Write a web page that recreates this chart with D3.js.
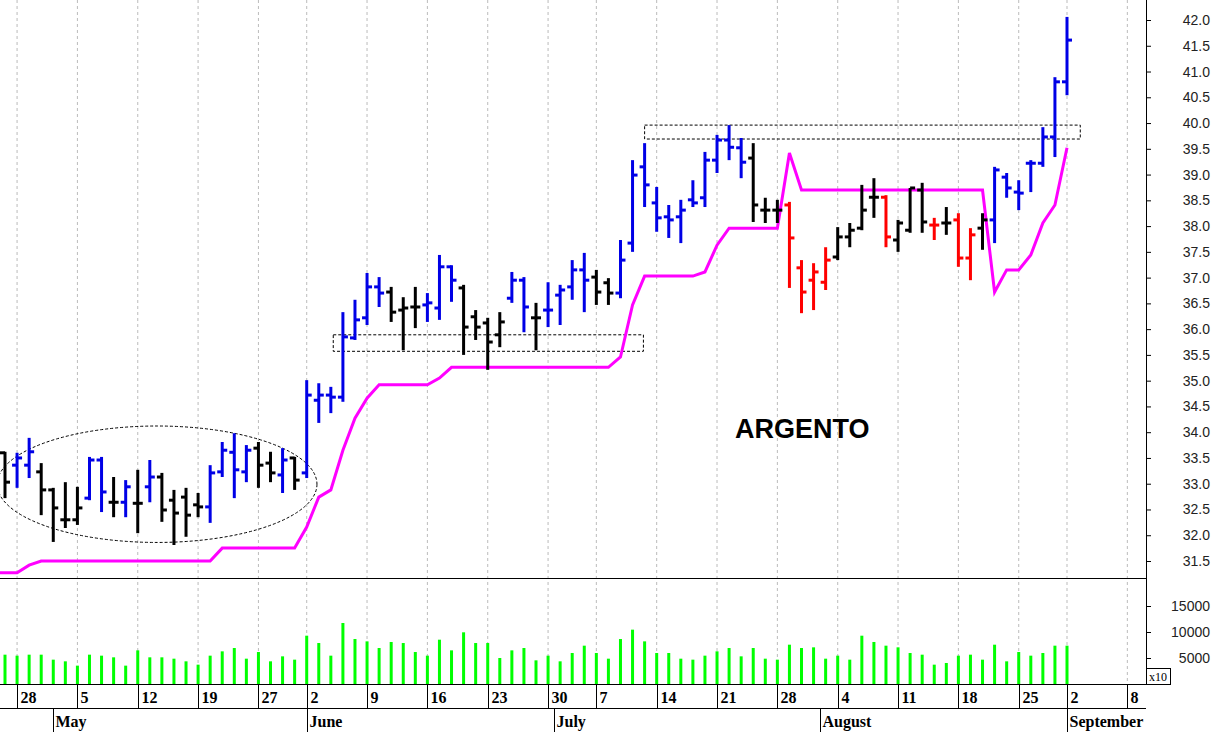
<!DOCTYPE html>
<html><head><meta charset="utf-8">
<script src="https://cdn.jsdelivr.net/npm/d3@7"></script>
<style>body{margin:0;background:#fff}svg{display:block}</style>
</head><body><svg id="c" width="1216" height="732"></svg>
<script>
// daily bars, index 0 = Apr 25
const opens = [33.60,33.36,33.36,33.23,32.88,32.30,32.30,32.72,33.46,32.64,32.64,32.62,32.94,33.13,32.68,32.74,32.59,32.55,33.23,33.61,33.23,33.69,33.40,33.17,33.50,
  33.21,34.62,34.72,34.68,35.83,36.22,36.82,36.72,36.37,36.43,36.47,36.41,37.21,36.80,36.24,36.12,35.89,36.60,36.95,36.22,36.37,36.66,36.82,37.15,37.01,36.90,
  36.70,37.67,39.15,38.45,38.18,38.18,38.51,38.55,39.28,39.67,39.52,39.32,38.31,38.31,38.41,37.19,36.95,36.91,37.40,37.79,37.96,38.56,38.56,37.73,37.92,38.70,
  38.02,38.06,38.12,37.38,37.96,38.12,38.95,38.66,39.22,39.22,39.73,40.80]
const highs = [33.62,33.60,33.89,33.40,32.92,33.03,32.94,33.52,33.52,33.13,33.07,33.27,33.46,33.21,32.88,32.92,32.82,33.36,33.81,33.98,33.75,33.81,33.62,33.69,33.52,
  35.01,34.95,34.88,36.33,36.57,37.09,37.01,36.82,36.62,36.82,36.70,37.44,37.24,36.86,36.37,36.22,36.33,37.11,37.01,36.51,36.91,36.86,37.34,37.48,37.15,36.99,
  37.73,39.28,39.61,38.76,38.41,38.51,38.89,39.44,39.77,39.96,39.71,39.61,38.55,38.51,38.47,37.34,37.28,37.59,37.98,38.06,38.80,38.93,38.60,38.12,38.74,38.84,
  38.16,38.37,38.25,37.96,38.25,39.15,39.03,38.89,39.28,39.92,40.89,42.06]
const lows = [32.72,32.92,33.11,32.39,31.87,32.14,32.20,32.68,32.45,32.35,32.35,32.04,32.64,32.26,31.81,31.97,32.35,32.24,33.13,32.72,33.03,32.92,33.03,32.82,32.88,
  33.11,34.18,34.37,34.59,35.79,36.08,36.43,36.14,35.59,36.02,36.14,36.18,36.53,35.50,35.79,35.21,35.65,36.51,35.94,35.59,36.04,36.08,36.57,36.33,36.47,36.47,
  36.60,37.50,38.37,37.89,37.77,37.67,38.37,38.37,39.03,39.28,38.93,38.08,38.06,38.06,36.80,36.31,36.37,36.76,37.34,37.59,37.92,38.16,37.59,37.50,37.87,37.87,
  37.73,37.83,37.21,36.95,37.54,37.67,38.55,38.31,38.66,39.15,39.34,40.54]
const closes = [33.03,33.50,33.62,32.88,32.53,32.30,32.53,33.46,32.84,32.64,32.94,32.62,33.13,32.49,32.43,32.39,32.55,33.21,33.65,33.27,33.65,33.36,33.21,33.46,33.07,
  34.72,34.72,34.68,35.85,36.18,36.82,36.70,36.33,36.41,36.43,36.51,37.21,36.95,36.04,36.04,35.75,36.14,36.95,36.43,36.22,36.37,36.76,37.15,36.95,36.72,36.70,
  37.34,38.99,38.80,38.16,38.12,38.31,38.45,39.28,39.67,39.53,39.24,38.41,38.31,38.31,37.77,36.72,37.11,37.34,37.79,37.92,38.31,38.56,37.79,38.06,38.74,38.08,
  38.02,38.06,37.38,37.83,38.12,39.09,38.74,38.64,39.22,39.73,40.80,41.61]
const barColors = "kbbkkkkbbkbkbkkkkbbbbkkbkbbbbbbbkkkbbbkkkkbbkbbbbkkbbbbbbbbbbbkkkrrrrkkkkrkkkrkrrkbbbbbbb"
const volumes = [5640,5450,5640,5640,4680,4360,3530,5640,5450,5130,3530,6470,5130,5130,4870,4360,3720,5450,6280,6920,4870,6150,4360,5320,4680,
  9290,7880,5450,11730,8650,8200,6920,8080,7880,6150,5450,8520,6470,9940,7880,7880,5000,6470,6920,4550,5450,
  4360,5960,7370,5960,4870,8650,10450,8200,5960,5960,4870,4680,5450,6280,6920,5320,6920,4870,4680,7560,6920,7050,4870,
  5450,4680,9290,8080,7370,7050,5960,5640,3720,4040,5450,5640,4680,7560,4360,6150,5450,5960,7370,7370]
const stop = [31.27,31.27,31.42,31.5,31.5,31.5,31.5,31.5,31.5,31.5,31.5,31.5,31.5,31.5,31.5,31.5,31.5,31.5,31.75,31.75,31.75,31.75,31.75,31.75,31.75,
  32.16,32.74,32.88,33.65,34.27,34.66,34.92,34.92,34.92,34.92,34.92,35.05,35.26,35.26,35.26,35.26,35.26,35.26,35.26,35.26,35.26,35.26,35.26,35.26,35.26,35.26,
  35.46,36.47,37.03,37.03,37.03,37.03,37.03,37.11,37.63,37.96,37.96,37.96,37.96,37.96,39.42,38.70,38.70,38.70,38.70,38.70,38.70,38.70,38.70,38.70,38.70,38.70,
  38.70,38.70,38.70,38.70,38.70,36.72,37.15,37.15,37.44,38.06,38.41,39.52]
const dayTicks = [[1,"28"],[6,"5"],[11,"12"],[16,"19"],[21,"27"],[25,"2"],[30,"9"],[35,"16"],[40,"23"],[45,"30"],[49,"7"],[54,"14"],[59,"21"],[64,"28"],[69,"4"],[74,"11"],[79,"18"],[84,"25"],[88,"2"],[93,"8"]]
const monthTicks = [[4,"May"],[25,"June"],[45.5,"July"],[67.5,"August"],[88,"September"]]
const priceTicks = d3.range(31.5, 42.01, 0.5)
const volTicks = [5000, 10000, 15000]
// annotations: [i0, i1, pLow, pHigh]
const boxes = [[27.2, 52.9, 35.57, 35.89], [53, 89.1, 39.69, 39.96]]
const ellipse = {i: 12.6, p: 32.99, ri: 13.25, rp: 1.13}

const svg = d3.select("#c")
const W = 1216, axisX = 1146
const x = d3.scaleLinear().domain([0, 88]).range([5, 1067])
const y = d3.scaleLinear().domain([31.5, 42]).range([561, 20])
const yv = d3.scaleLinear().domain([0, 5000]).range([684, 658])
const col = {k: "#000", b: "#0000e6", r: "#ff0000"}

// grid
svg.append("g").selectAll("line").data(dayTicks).join("line")
  .attr("x1", d => x(d[0])).attr("x2", d => x(d[0])).attr("y1", 0).attr("y2", 684)
  .attr("stroke", "#bbb").attr("stroke-dasharray", "3,3")
svg.append("line").attr("x1", 0).attr("x2", axisX).attr("y1", 578.5).attr("y2", 578.5).attr("stroke", "#000")
svg.append("line").attr("x1", axisX + .5).attr("x2", axisX + .5).attr("y1", 0).attr("y2", 684).attr("stroke", "#000")

// right price axis
const ya = svg.append("g").attr("transform", `translate(${axisX},0)`)
  .call(d3.axisRight(y).tickValues(priceTicks).tickFormat(d3.format(".1f")).tickSize(5))
ya.select(".domain").remove()
ya.selectAll("text").attr("x", 64).attr("text-anchor", "end").attr("font-family", "Arial").attr("font-size", 14).attr("fill", "#222")
const va = svg.append("g").attr("transform", `translate(${axisX},0)`)
  .call(d3.axisRight(yv).tickValues(volTicks).tickFormat(d3.format("d")).tickSize(5))
va.select(".domain").remove()
va.selectAll("text").attr("x", 64).attr("text-anchor", "end").attr("font-family", "Arial").attr("font-size", 14).attr("fill", "#222")
svg.append("rect").attr("x", axisX + .5).attr("y", 668.5).attr("width", 24).attr("height", 16).attr("fill", "#fff").attr("stroke", "#000")
svg.append("text").attr("x", axisX + 3).attr("y", 681).attr("font-family", "Times New Roman, Liberation Serif").attr("font-size", 12).text("x10")

// annotations
svg.append("g").selectAll("rect").data(boxes).join("rect")
  .attr("x", d => x(d[0])).attr("y", d => y(d[3])).attr("width", d => x(d[1]) - x(d[0])).attr("height", d => y(d[2]) - y(d[3]))
  .attr("fill", "none").attr("stroke", "#000").attr("stroke-dasharray", "3,2")
svg.append("ellipse").attr("cx", x(ellipse.i)).attr("cy", y(ellipse.p))
  .attr("rx", x(ellipse.ri) - x(0)).attr("ry", y(0) - y(ellipse.rp))
  .attr("fill", "none").attr("stroke", "#000").attr("stroke-dasharray", "3,2")

// stop line, carried to the left edge
svg.append("path").datum(stop)
  .attr("d", d3.line().x((d, i) => i === 0 ? 0 : x(i)).y(d => y(d)))
  .attr("fill", "none").attr("stroke", "#ff00ff").attr("stroke-width", 3)

// OHLC bars
const bars = svg.append("g").selectAll("g").data(opens).join("g")
  .attr("stroke", (d, i) => col[barColors[i]]).attr("stroke-width", 3)
bars.append("line").attr("x1", (d, i) => x(i)).attr("x2", (d, i) => x(i))
  .attr("y1", (d, i) => y(highs[i])).attr("y2", (d, i) => y(lows[i]))
bars.append("line").attr("x1", (d, i) => x(i) - 5).attr("x2", (d, i) => x(i))
  .attr("y1", d => y(d)).attr("y2", d => y(d))
bars.append("line").attr("x1", (d, i) => x(i)).attr("x2", (d, i) => x(i) + 5)
  .attr("y1", (d, i) => y(closes[i])).attr("y2", (d, i) => y(closes[i]))

// volume
svg.append("g").selectAll("rect").data(volumes).join("rect")
  .attr("x", (d, i) => x(i) - 1.5).attr("width", 3)
  .attr("y", d => yv(d)).attr("height", d => yv(0) - yv(d)).attr("fill", "#00ff00")

svg.append("text").attr("x", 735).attr("y", 438).attr("font-family", "Arial, Liberation Sans").attr("font-weight", "bold")
  .attr("font-size", 27).text("ARGENTO")

// date axis
svg.append("line").attr("x1", 0).attr("x2", axisX).attr("y1", 684.5).attr("y2", 684.5).attr("stroke", "#000")
svg.append("line").attr("x1", 0).attr("x2", axisX).attr("y1", 708.5).attr("y2", 708.5).attr("stroke", "#000")
const dt = svg.append("g").selectAll("g").data(dayTicks).join("g").attr("transform", d => `translate(${Math.round(x(d[0])) + .5},0)`)
dt.append("line").attr("y1", 684).attr("y2", 708).attr("stroke", "#000")
dt.append("text").attr("x", 3).attr("y", 703).attr("font-family", "Times New Roman, Liberation Serif").attr("font-weight", "bold").attr("font-size", 16).text(d => d[1])
const mt = svg.append("g").selectAll("g").data(monthTicks).join("g").attr("transform", d => `translate(${Math.round(x(d[0])) + .5},0)`)
mt.append("line").attr("y1", 708).attr("y2", 732).attr("stroke", "#000")
mt.append("text").attr("x", 2).attr("y", 727).attr("font-family", "Times New Roman, Liberation Serif").attr("font-weight", "bold").attr("font-size", 16).text(d => d[1])
svg.append("rect").attr("x", axisX).attr("y", 709).attr("width", W - axisX).attr("height", 23).attr("fill", "#fff")
</script></body></html>
